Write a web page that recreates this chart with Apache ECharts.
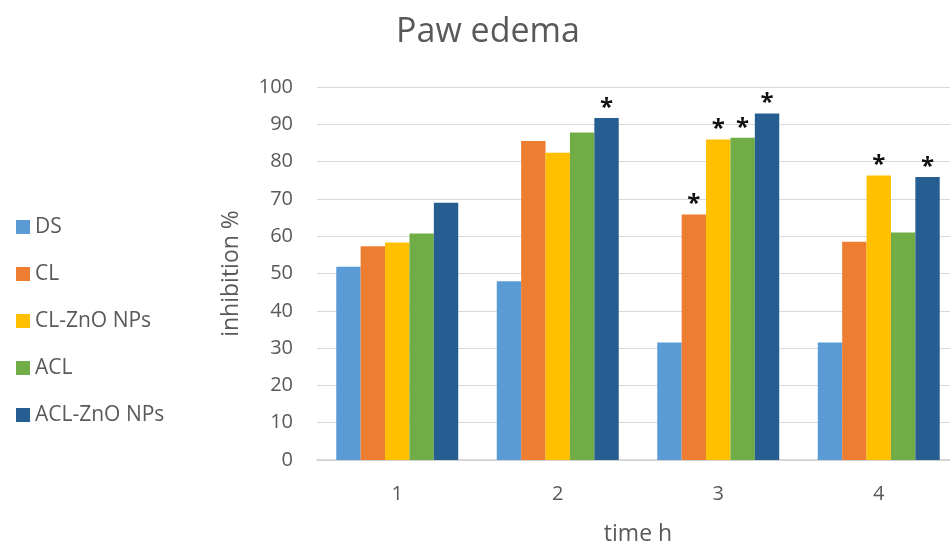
<!DOCTYPE html>
<html>
<head>
<meta charset="utf-8">
<script src="https://cdn.jsdelivr.net/npm/echarts@6/dist/echarts.min.js"></script>
<style>
  html, body { margin: 0; padding: 0; background: #fff; }
  #chart { width: 950px; height: 544px; }
</style>
</head>
<body>
<div id="chart"></div>
<script>
// Time points (hours)
const categories = ['1', '2', '3', '4'];

// Inhibition % for each treatment group
const seriesNames = ['DS', 'CL', 'CL-ZnO NPs', 'ACL', 'ACL-ZnO NPs'];
const dsValues      = [51.8, 47.9, 31.5, 31.5];
const clValues      = [57.3, 85.5, 65.8, 58.5];
const clZnoValues   = [58.3, 82.4, 85.9, 76.3];
const aclValues     = [60.7, 87.8, 86.4, 61.0];
const aclZnoValues  = [69.0, 91.7, 92.9, 75.9];

// Significance flags (asterisk above the bar)
const dsSig     = [false, false, false, false];
const clSig     = [false, false, true,  false];
const clZnoSig  = [false, false, true,  true ];
const aclSig    = [false, false, true,  false];
const aclZnoSig = [false, true,  true,  true ];

const colors = ['#5B9BD5', '#ED7D31', '#FFC000', '#70AD47', '#275E91'];
const allValues = [dsValues, clValues, clZnoValues, aclValues, aclZnoValues];
const allSig = [dsSig, clSig, clZnoSig, aclSig, aclZnoSig];

const font = '"Open Sans", "Noto Sans", sans-serif';
const textColor = '#595959';

const series = seriesNames.map((name, i) => ({
  name: name,
  type: 'bar',
  barGap: '0%',
  barCategoryGap: '24%',
  itemStyle: { color: colors[i] },
  data: allValues[i].map((v, j) => ({
    value: v,
    label: {
      show: allSig[i][j],
      position: 'top',
      distance: -2,
      formatter: '*',
      fontSize: 24,
      fontWeight: 'bold',
      color: '#111',
      fontFamily: font
    }
  }))
}));

const chart = echarts.init(document.getElementById('chart'), null, { renderer: 'canvas' });
chart.setOption({
  animation: false,
  backgroundColor: '#ffffff',
  title: {
    text: 'Paw edema',
    left: 483,
    textAlign: 'center',
    top: 10,
    textStyle: { fontFamily: font, fontSize: 34, fontWeight: 'normal', color: textColor }
  },
  legend: {
    orient: 'vertical',
    left: 11,
    top: 208,
    itemWidth: 14,
    itemHeight: 14,
    itemGap: 19,
    icon: 'rect',
    textStyle: { fontFamily: font, fontSize: 21, color: textColor, lineHeight: 28 },
    data: seriesNames
  },
  grid: {
    outerBoundsMode: 'none',
    containLabel: false,
    left: 317,
    top: 87,
    width: 642,
    height: 373
  },
  xAxis: {
    type: 'category',
    data: categories,
    name: 'time h',
    nameLocation: 'middle',
    nameGap: 63,
    nameTextStyle: { fontFamily: font, fontSize: 23, color: textColor },
    axisLine: { lineStyle: { color: '#d0d0d0', width: 1.5 } },
    axisTick: { show: false },
    axisLabel: { fontFamily: font, fontSize: 20, color: textColor, margin: 24 }
  },
  yAxis: {
    type: 'value',
    min: 0,
    max: 100,
    interval: 10,
    name: 'inhibition %',
    nameLocation: 'middle',
    nameGap: 74,
    nameTextStyle: { fontFamily: font, fontSize: 23, color: textColor },
    axisLine: { show: false },
    axisTick: { show: false },
    axisLabel: { fontFamily: font, fontSize: 20, color: textColor, margin: 24 },
    splitLine: { lineStyle: { color: '#d9d9d9', width: 1.2 } }
  },
  series: series
});
</script>
</body>
</html>
